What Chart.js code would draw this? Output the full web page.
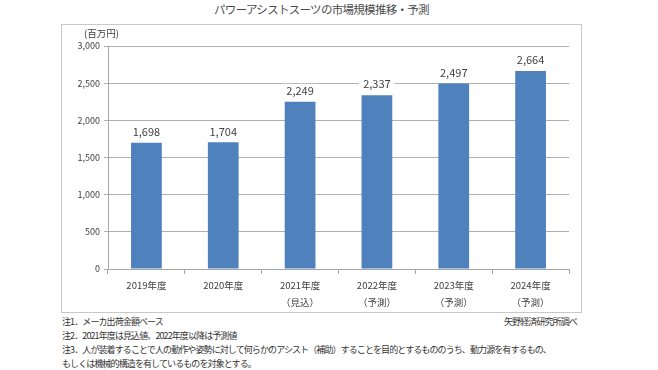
<!DOCTYPE html>
<html>
<head>
<meta charset="utf-8">
<script src="https://cdn.jsdelivr.net/npm/chart.js@4"></script>
<style>
  body { margin: 0; background: #fff; width: 658px; height: 370px; position: relative; overflow: hidden;
         font-family: "Noto Sans CJK JP", "Noto Sans", sans-serif; color: #404040; }
  .title { position: absolute; top: 0; left: 61px; width: 521px; text-align: center; font-size: 11.5px;
           letter-spacing: -0.7px; line-height: 18px; color: #4a4a4a; }
  .frame { position: absolute; left: 61px; top: 24px; width: 519px; height: 287px; border: 1px solid #c8c8c8; }
  .wrap { position: absolute; left: 62px; top: 25px; width: 519px; height: 287px; }
  .unit { position: absolute; left: 84px; top: 26px; font-size: 9.5px; line-height: 14px; color: #404040; }
  .note { position: absolute; left: 62px; font-size: 9px; letter-spacing: -0.9px; line-height: 14px; white-space: nowrap; color: #333; }
  .src { position: absolute; left: 504px; top: 315px; font-size: 9px; letter-spacing: -0.9px; line-height: 14px; color: #333; }
</style>
</head>
<body>
<div class="title">パワーアシストスーツの市場規模推移・予測</div>
<div class="frame"></div>
<div class="wrap"><canvas id="chart"></canvas></div>
<div class="unit">(百万円)</div>
<div class="note" style="top:315px">注1．メーカ出荷金額ベース</div>
<div class="note" style="top:329px">注2．2021年度は見込値、2022年度以降は予測値</div>
<div class="note" style="top:343px">注3．人が装着することで人の動作や姿勢に対して何らかのアシスト（補助）することを目的とするもののうち、動力源を有するもの、</div>
<div class="note" style="top:357px">もしくは機械的構造を有しているものを対象とする。</div>
<div class="src">矢野経済研究所調べ</div>
<script>
const years = ["2019年度", "2020年度", "2021年度", "2022年度", "2023年度", "2024年度"];
const subLabels = ["", "", "（見込）", "（予測）", "（予測）", "（予測）"];
const marketSize = [1698, 1704, 2249, 2337, 2497, 2664];
const yTicks = [0, 500, 1000, 1500, 2000, 2500, 3000];

const FONT = "'Noto Sans CJK JP', 'Noto Sans', sans-serif";
const fmt = (v) => v.toLocaleString("en-US");

// 棒の上に値ラベル（白背景で目盛線を隠す）
const valueLabels = {
  id: "valueLabels",
  afterDatasetsDraw(chart) {
    const ctx = chart.ctx;
    const meta = chart.getDatasetMeta(0);
    ctx.save();
    ctx.font = "11px " + FONT;
    ctx.textAlign = "center";
    ctx.textBaseline = "middle";
    meta.data.forEach((bar, i) => {
      const text = fmt(marketSize[i]);
      const w = ctx.measureText(text).width + 8;
      const y = bar.y - 11;
      ctx.fillStyle = "#fff";
      ctx.fillRect(bar.x - w / 2, y - 7, w, 14);
      ctx.fillStyle = "#404040";
      ctx.fillText(text, bar.x, y);
    });
    ctx.restore();
  }
};

new Chart(document.getElementById("chart"), {
  type: "bar",
  data: {
    labels: years.map((y, i) => subLabels[i] ? [y, subLabels[i]] : y),
    datasets: [{
      data: marketSize,
      backgroundColor: "#4f81bd",
      categoryPercentage: 1,
      barPercentage: 0.4
    }]
  },
  options: {
    responsive: true,
    maintainAspectRatio: false,
    animation: false,
    layout: { padding: { left: 0, top: 21, right: 12, bottom: 0 } },
    plugins: { legend: { display: false }, tooltip: { enabled: false } },
    scales: {
      x: {
        grid: { offset: true, drawOnChartArea: false, drawTicks: true, tickLength: 5, color: "#a6a6a6" },
        border: { color: "#a6a6a6" },
        ticks: { color: "#404040", font: { family: FONT, size: 9.5, lineHeight: 1.75 }, padding: 3 },
        afterFit(scale) { scale.height = 43; }
      },
      y: {
        min: 0,
        max: 3000,
        afterBuildTicks(scale) { scale.ticks = yTicks.map((v) => ({ value: v })); },
        grid: { color: "#b0b0b0", tickLength: 4 },
        border: { color: "#a6a6a6" },
        ticks: { color: "#404040", font: { family: FONT, size: 9 }, padding: 4, callback: (v) => fmt(v) },
        afterFit(scale) { scale.width = 46; }
      }
    }
  },
  plugins: [valueLabels]
});
</script>
</body>
</html>
